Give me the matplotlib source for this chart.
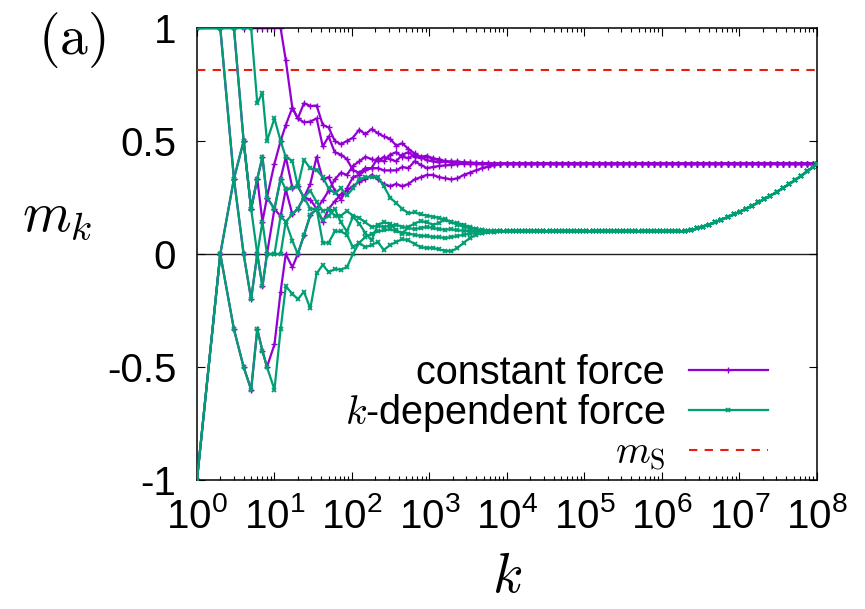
import matplotlib
matplotlib.use('Agg')
import matplotlib.pyplot as plt
import matplotlib.ticker as ticker
import numpy as np

plt.rcParams['font.family'] = ['Liberation Sans', 'DejaVu Sans']
plt.rcParams['mathtext.fontset'] = 'custom'
plt.rcParams['mathtext.rm'] = 'cmr10'
plt.rcParams['mathtext.it'] = 'cmmi10'
plt.rcParams['mathtext.sf'] = 'Liberation Sans'

# sampled steps k (early part, individual runs)
K_EARLY = [1, 2, 3, 4, 5, 6, 7, 8, 10, 12, 14, 17, 20, 24, 29, 35, 42, 50, 60, 72, 86,
           103, 124, 149, 179, 215, 258, 310, 372, 446, 535, 642, 770, 924, 1109, 1331,
           1597, 1916, 2299, 2759, 3311, 3973, 4768, 5722, 6866, 8239, 9887]

# constant force runs
P_A = [-1, 0, -0.333, -0.5, -0.6, -0.333, -0.429, -0.5,
       -0.4, -0.167, 0.0, -0.059, 0.0,
       0.083, 0.172, 0.2, 0.143, 0.2, 0.233, 0.264, 0.28,
       0.30, 0.32, 0.33, 0.35, 0.33, 0.31, 0.30, 0.31, 0.30, 0.31,
       0.33, 0.34, 0.35, 0.35, 0.34, 0.335, 0.33, 0.335, 0.35, 0.36,
       0.37, 0.38, 0.387, 0.393, 0.397, 0.40]
P_B = [-1, 0, 0.333, 0.5, 0.2, 0.333, 0.143, 0.25,
       0.2, 0.167, 0.286, 0.176, 0.2,
       0.25, 0.241, 0.2, 0.238, 0.28, 0.33, 0.36, 0.35,
       0.39, 0.41, 0.43, 0.42, 0.41, 0.43, 0.42, 0.41, 0.44, 0.45,
       0.43, 0.425, 0.43, 0.425, 0.415, 0.41, 0.41, 0.407, 0.405, 0.402,
       0.401, 0.40, 0.40, 0.40, 0.40, 0.40]
P_C = [1, 1, 0.333, 0.0, -0.2, 0.0, -0.143, 0.0,
       0.2, 0.333, 0.429, 0.294, 0.3,
       0.25, 0.31, 0.43, 0.33, 0.34, 0.28, 0.24, 0.29,
       0.34, 0.35, 0.37, 0.38, 0.38, 0.37, 0.37, 0.37, 0.385, 0.38,
       0.41, 0.395, 0.38, 0.385, 0.39, 0.392, 0.395, 0.397, 0.40, 0.40,
       0.40, 0.40, 0.40, 0.40, 0.40, 0.40]
P_D = [1, 1, 1, 0.5, 0.2, 0.333, 0.429, 0.25,
       0.4, 0.5, 0.571, 0.647, 0.6,
       0.583, 0.586, 0.6, 0.476, 0.52, 0.45, 0.44, 0.42,
       0.37, 0.36, 0.38, 0.38, 0.425, 0.41, 0.44, 0.45, 0.43, 0.425,
       0.44, 0.43, 0.415, 0.41, 0.405, 0.41, 0.405, 0.403, 0.402, 0.40,
       0.40, 0.40, 0.40, 0.40, 0.40, 0.40]
P_E = [1, 1, 1, 1, 1, 1, 1, 1, 1, 1,
       0.857, 0.647, 0.6,
       0.667, 0.655, 0.657, 0.571, 0.56, 0.5, 0.486, 0.5,
       0.515, 0.55, 0.53, 0.553, 0.535, 0.52, 0.51, 0.48, 0.49, 0.465,
       0.445, 0.43, 0.435, 0.42, 0.42, 0.41, 0.405, 0.41, 0.405, 0.405,
       0.403, 0.402, 0.401, 0.40, 0.40, 0.40]

# k-dependent force runs
G_A = [-1, 0, -0.333, -0.5, -0.6, -0.333, -0.429, -0.5,
       -0.6, -0.333, -0.143, -0.176, -0.2,
       -0.167, -0.241, -0.086, -0.048, -0.08, -0.067, -0.069, -0.058,
       0.0, 0.05, 0.075, 0.09, 0.10, 0.105, 0.11, 0.10, 0.095, 0.09,
       0.085, 0.08, 0.08, 0.075, 0.075, 0.07, 0.075, 0.08, 0.085, 0.09,
       0.092, 0.095, 0.097, 0.099, 0.10, 0.10]
G_B = [-1, 0, 0.333, 0.5, 0.2, 0.333, 0.429, 0.25,
       0.2, 0.333, 0.286, 0.294, 0.3,
       0.25, 0.2, 0.2, 0.15, 0.17, 0.2, 0.14, 0.1,
       0.165, 0.135, 0.093, 0.06, 0.13, 0.14, 0.135, 0.105, 0.09, 0.12,
       0.135, 0.146, 0.14, 0.13, 0.137, 0.155, 0.14, 0.137, 0.13, 0.12,
       0.11, 0.105, 0.102, 0.10, 0.10, 0.10]
G_C = [1, 1, 0.333, 0.0, -0.2, 0.0, 0.143, 0.0,
       0.0, 0.167, 0.143, 0.059, 0.0,
       0.083, 0.172, 0.2, 0.05, 0.05, 0.1, 0.1, 0.085,
       0.03, 0.05, 0.03, 0.04, 0.053, 0.018, 0.04, 0.053, 0.066, 0.06,
       0.045, 0.03, 0.027, 0.027, 0.02, 0.015, 0.012, 0.027, 0.05, 0.07,
       0.084, 0.092, 0.097, 0.099, 0.10, 0.10]
G_D = [1, 1, 1, 0.5, 0.2, 0.0, -0.143, 0.0,
       0.0, 0.0, 0.143, 0.176, 0.2,
       0.25, 0.28, 0.23, 0.19, 0.2, 0.17, 0.17, 0.19,
       0.17, 0.16, 0.14, 0.12, 0.125, 0.12, 0.125, 0.13, 0.12, 0.115,
       0.11, 0.115, 0.12, 0.115, 0.11, 0.108, 0.11, 0.105, 0.103, 0.102,
       0.10, 0.10, 0.10, 0.10, 0.10, 0.10]
G_E = [1, 1, 1, 1, 1,
       0.667, 0.714, 0.5, 0.6, 0.5, 0.429, 0.412, 0.3,
       0.417, 0.379, 0.371, 0.34, 0.29, 0.27, 0.29, 0.26,
       0.29, 0.33, 0.34, 0.34, 0.34, 0.30, 0.25, 0.225, 0.20, 0.18,
       0.185, 0.175, 0.17, 0.165, 0.16, 0.15, 0.14, 0.13, 0.12, 0.115,
       0.11, 0.105, 0.103, 0.101, 0.10, 0.10]

# late part, all runs of a kind coincide
K_TAIL = [1.19e4, 1.42e4, 1.71e4, 2.05e4, 2.46e4, 2.95e4, 3.54e4, 4.25e4, 5.10e4, 6.12e4,
          7.35e4, 8.81e4, 1.06e5, 1.27e5, 1.52e5, 1.83e5, 2.19e5, 2.63e5, 3.16e5, 3.79e5,
          4.55e5, 5.46e5, 6.55e5, 7.86e5, 9.43e5, 1.13e6, 1.36e6, 1.63e6, 1.96e6,
          2.35e6, 2.82e6, 3.38e6, 4.06e6, 4.87e6, 5.84e6, 7.01e6, 8.41e6,
          1.01e7, 1.21e7, 1.45e7, 1.74e7, 2.09e7, 2.51e7, 3.01e7, 3.62e7, 4.34e7,
          5.21e7, 6.25e7, 7.50e7, 9.00e7, 1.00e8]
CONST_TAIL = [0.40, 0.40, 0.40, 0.40, 0.40, 0.40, 0.40, 0.40, 0.40, 0.40,
              0.40, 0.40, 0.40, 0.40, 0.40, 0.40, 0.40, 0.40, 0.40, 0.40,
              0.40, 0.40, 0.40, 0.40, 0.40, 0.40, 0.40, 0.40, 0.40,
              0.40, 0.40, 0.40, 0.40, 0.40, 0.40, 0.40, 0.40,
              0.40, 0.40, 0.40, 0.40, 0.40, 0.40, 0.40, 0.40, 0.40,
              0.40, 0.40, 0.40, 0.40, 0.40]
KDEP_TAIL = [0.10, 0.10, 0.10, 0.10, 0.10, 0.10, 0.10, 0.10, 0.10, 0.10,
             0.10, 0.10, 0.10, 0.10, 0.10, 0.10, 0.10, 0.10, 0.10, 0.10,
             0.10, 0.10, 0.10, 0.10, 0.10, 0.10, 0.10, 0.10, 0.10,
             0.105, 0.113, 0.121, 0.130, 0.141, 0.152, 0.163, 0.175,
             0.187, 0.200, 0.213, 0.228, 0.243, 0.258, 0.274, 0.291, 0.309,
             0.327, 0.346, 0.366, 0.387, 0.40]

M_S = 0.815

const_runs = [P_A, P_B, P_C, P_D, P_E]
kdep_runs = [G_A, G_B, G_C, G_D, G_E]

purple = '#9400d3'
green = '#009e73'
red = '#e51e10'

fig = plt.figure(figsize=(8.65, 6.09), dpi=100)
ax = fig.add_axes([0.2277, 0.2118, 0.7168, 0.7422])

k_all = K_EARLY + K_TAIL

ax.axhline(0, color='#222222', lw=1.0, zorder=1)

for i, run in enumerate(const_runs):
    ax.plot(k_all, run + CONST_TAIL, color=purple, lw=1.6, marker='+', ms=4, mew=1.0,
            label='constant force' if i == 0 else None, zorder=2)
for i, run in enumerate(kdep_runs):
    ax.plot(k_all, run + KDEP_TAIL, color=green, lw=1.6, marker='x', ms=3.5, mew=1.3,
            label=r'$k$-dependent force' if i == 0 else None, zorder=3)
ax.axhline(M_S, color=red, lw=1.5, dashes=(4, 3.5), label=r'$m_\mathrm{S}$', zorder=4)

ax.set_xscale('log')
ax.set_xlim(1, 1e8)
ax.set_ylim(-1, 1)

ax.set_xticks([10.0 ** i for i in range(9)],
              labels=[r'$\mathsf{10^{%d}}$' % i for i in range(9)])
ax.xaxis.set_minor_locator(ticker.LogLocator(base=10, subs=np.arange(2, 10), numticks=100))
ax.xaxis.set_minor_formatter(ticker.NullFormatter())
ax.set_yticks([-1, -0.5, 0, 0.5, 1], labels=['-1', '-0.5', '0', '0.5', '1'])

ax.tick_params(which='both', direction='in', top=True, right=True, width=0.8,
               labelsize=29)
ax.tick_params(which='major', length=6)
ax.tick_params(which='minor', length=3)
ax.tick_params(axis='y', pad=15)
ax.tick_params(axis='x', pad=12)
for s in ax.spines.values():
    s.set_linewidth(1.1)

ax.set_xlabel(r'$k$', fontsize=40, labelpad=12)
fig.text(0.066, 0.645, r'$m_k$', fontsize=40, ha='center', va='center')
fig.text(0.083, 0.935, r'$\mathrm{(a)}$', fontsize=40, ha='center', va='center')

ax.legend(loc='lower right', bbox_to_anchor=(0.921, 0.015), frameon=False,
          markerfirst=False, fontsize=28.5, handlelength=2.0, handletextpad=0.6,
          labelspacing=0.0, borderpad=0, borderaxespad=0, numpoints=1)

fig.savefig('out.png', dpi=100)
